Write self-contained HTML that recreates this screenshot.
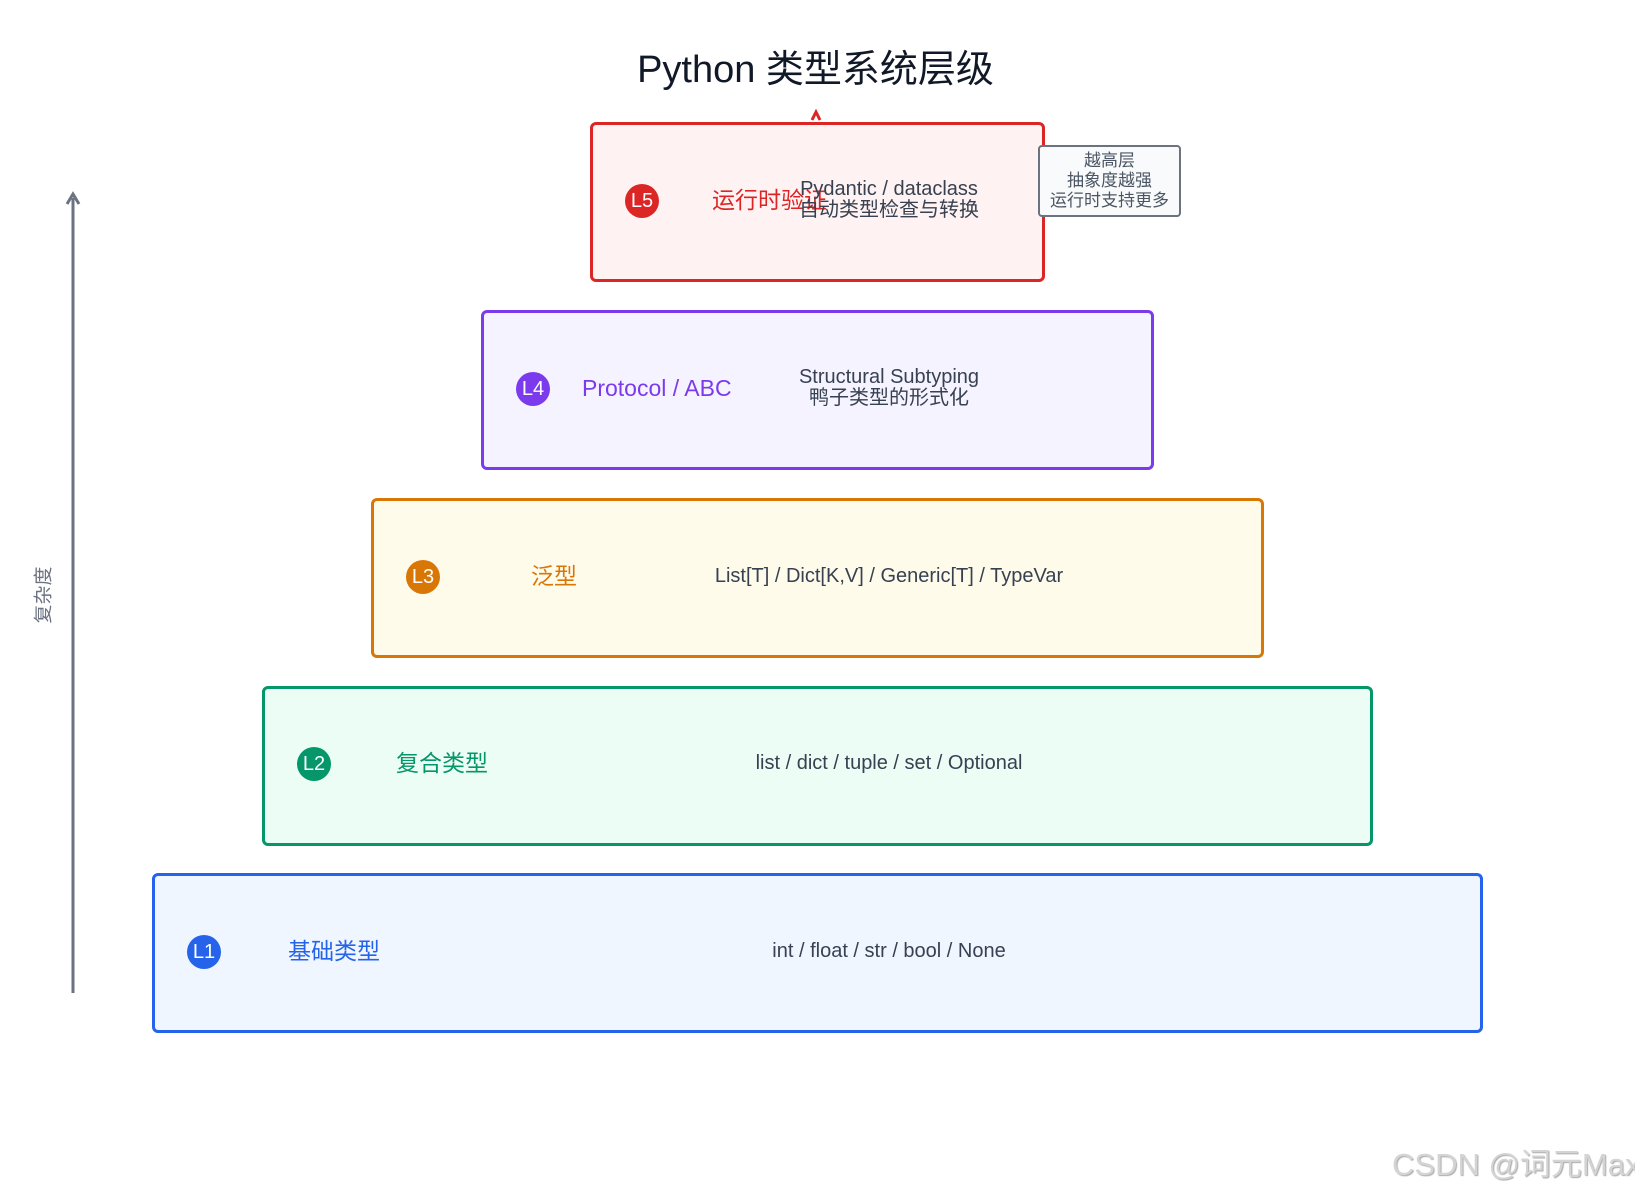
<!DOCTYPE html>
<html><head><meta charset="utf-8"><style>
html,body{margin:0;padding:0;background:#fff;}
body{width:1635px;height:1185px;position:relative;overflow:hidden;font-family:"Liberation Sans","Noto Sans CJK SC",sans-serif;}
.box{position:absolute;box-sizing:border-box;border:3px solid;border-radius:6px;}
.c{position:absolute;width:34px;height:34px;border-radius:50%;color:#fff;font-size:20px;line-height:34px;text-align:center;}
.n{position:absolute;font-size:23px;line-height:28px;white-space:nowrap;}
.d{position:absolute;font-size:20px;line-height:21px;color:#374151;text-align:center;white-space:nowrap;transform:translateX(-50%);}
</style></head><body>
<div style="position:absolute;left:0;width:1635px;top:46px;text-align:center;font-size:38px;color:#111827;line-height:48px;"><span style="position:relative;left:-2px">Python 类型系统层级</span></div>

<svg style="position:absolute;left:0;top:0" width="1635" height="1185">
<line x1="73" y1="993" x2="73" y2="198" stroke="#6b7280" stroke-width="3"/>
<polyline points="67,204 73,194 79,204" fill="none" stroke="#6b7280" stroke-width="3"/>
<polyline points="812,120 816,112 820,120" fill="none" stroke="#dc2626" stroke-width="3"/>
</svg>
<div style="position:absolute;left:42px;top:595px;transform:translate(-50%,-50%) rotate(-90deg);font-size:19px;color:#6b7280;white-space:nowrap;">复杂度</div>

<div class="box" style="left:590px;top:122px;width:455px;height:160px;border-color:#dc2626;background:#fef2f2;"></div>
<div class="box" style="left:481px;top:310px;width:673px;height:160px;border-color:#7c3aed;background:#f5f3ff;"></div>
<div class="box" style="left:371px;top:498px;width:893px;height:160px;border-color:#d97706;background:#fffbeb;"></div>
<div class="box" style="left:262px;top:686px;width:1111px;height:160px;border-color:#059669;background:#ecfdf5;"></div>
<div class="box" style="left:152px;top:873px;width:1331px;height:160px;border-color:#2563eb;background:#eff6ff;"></div>

<div class="box" style="left:1038px;top:145px;width:143px;height:72px;border:2px solid #6b7280;background:#f9fafb;border-radius:4px;font-size:17px;line-height:20px;color:#4b5563;text-align:center;padding-top:4px;">越高层<br>抽象度越强<br>运行时支持更多</div>

<div class="c" style="left:625px;top:184px;background:#dc2626;">L5</div>
<div class="c" style="left:516px;top:372px;background:#7c3aed;">L4</div>
<div class="c" style="left:406px;top:560px;background:#d97706;">L3</div>
<div class="c" style="left:297px;top:747px;background:#059669;">L2</div>
<div class="c" style="left:187px;top:935px;background:#2563eb;">L1</div>

<div class="n" style="left:712px;top:186px;color:#dc2626;">运行时验证</div>
<div class="n" style="left:582px;top:374px;color:#7c3aed;">Protocol / ABC</div>
<div class="n" style="left:531px;top:562px;color:#d97706;">泛型</div>
<div class="n" style="left:396px;top:749px;color:#059669;">复合类型</div>
<div class="n" style="left:288px;top:937px;color:#2563eb;">基础类型</div>

<div class="d" style="left:889px;top:179px;">Pydantic / dataclass<br>自动类型检查与转换</div>
<div class="d" style="left:889px;top:367px;">Structural Subtyping<br>鸭子类型的形式化</div>
<div class="d" style="left:889px;top:566px;">List[T] / Dict[K,V] / Generic[T] / TypeVar</div>
<div class="d" style="left:889px;top:753px;">list / dict / tuple / set / Optional</div>
<div class="d" style="left:889px;top:941px;">int / float / str / bool / None</div>

<div style="position:absolute;left:1392px;top:1139px;font-size:31px;color:#d4d4d4;white-space:nowrap;text-shadow:1px 1px 1px #aaa;">CSDN @词元Max</div>
</body></html>
